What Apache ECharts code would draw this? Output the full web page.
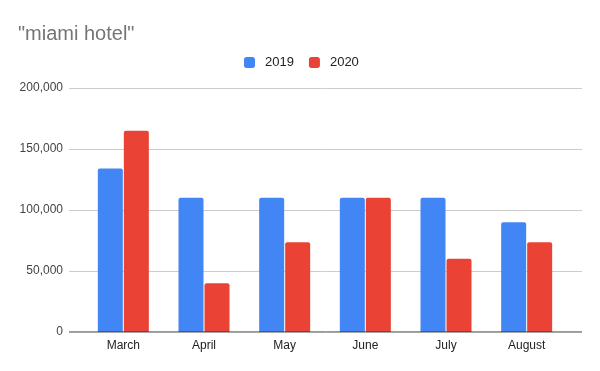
<!DOCTYPE html>
<html><head><meta charset="utf-8">
<script src="https://cdn.jsdelivr.net/npm/echarts@6/dist/echarts.min.js"></script>
<style>html,body{margin:0;padding:0;background:#fff}#c{width:600px;height:371px}</style>
</head><body><div id="c"></div>
<script>
const categories = ['March', 'April', 'May', 'June', 'July', 'August'];
const series2019 = [134000, 110000, 110000, 110000, 110000, 90000];
const series2020 = [165000, 40000, 73500, 110000, 60000, 73500];
const yTicks = [0, 50000, 100000, 150000, 200000];
const seriesNames = ['2019', '2020'];

const FONT = 'Arial, "Liberation Sans", sans-serif';
const chart = echarts.init(document.getElementById('c'));
const fmt = v => v.toLocaleString('en-US');
chart.setOption({
  animation: false,
  textStyle: { fontFamily: FONT },
  title: { text: '"miami hotel"', left: 13, top: 19,
    textStyle: { fontSize: 20, fontWeight: 'normal', color: '#757575', fontFamily: FONT } },
  legend: { left: 244, top: 56, padding: 0, itemWidth: 11, itemHeight: 11, itemGap: 15,
    icon: 'roundRect', textStyle: { fontSize: 13, color: '#222', padding: [0, 0, 0, 5] }, data: seriesNames },
  grid: [
    { left: 69, right: 18, top: 88, bottom: 39 },
    { left: 83, right: 33, top: 88, bottom: 39 }
  ],
  xAxis: [
    { gridIndex: 0, type: 'value', show: false, min: 0, max: 1 },
    { gridIndex: 1, type: 'category', data: categories,
      axisLine: { show: false }, axisTick: { show: false },
      axisLabel: { color: '#222', fontSize: 12, margin: 8 } }
  ],
  yAxis: [
    { gridIndex: 0, type: 'value', min: yTicks[0], max: yTicks[yTicks.length - 1], interval: 50000,
      axisLine: { show: false }, axisTick: { show: false },
      axisLabel: { color: '#444', fontSize: 12, margin: 6, formatter: fmt },
      splitLine: { lineStyle: { color: '#cccccc' } } },
    { gridIndex: 1, type: 'value', min: yTicks[0], max: yTicks[yTicks.length - 1], interval: 50000,
      show: false, splitLine: { show: false } }
  ],
  series: [
    { name: seriesNames[0], type: 'bar', xAxisIndex: 1, yAxisIndex: 1, data: series2019,
      barWidth: 25, barGap: '4%', itemStyle: { color: '#4285F4', borderRadius: [2, 2, 0, 0] } },
    { name: seriesNames[1], type: 'bar', xAxisIndex: 1, yAxisIndex: 1, data: series2020,
      barWidth: 25, barGap: '4%', itemStyle: { color: '#EA4335', borderRadius: [2, 2, 0, 0] } },
    { type: 'line', xAxisIndex: 0, yAxisIndex: 0, data: [[0, 0], [1, 0]], symbol: 'none',
      lineStyle: { color: '#333', width: 1 }, silent: true, z: 5 }
  ]
});
</script></body></html>
